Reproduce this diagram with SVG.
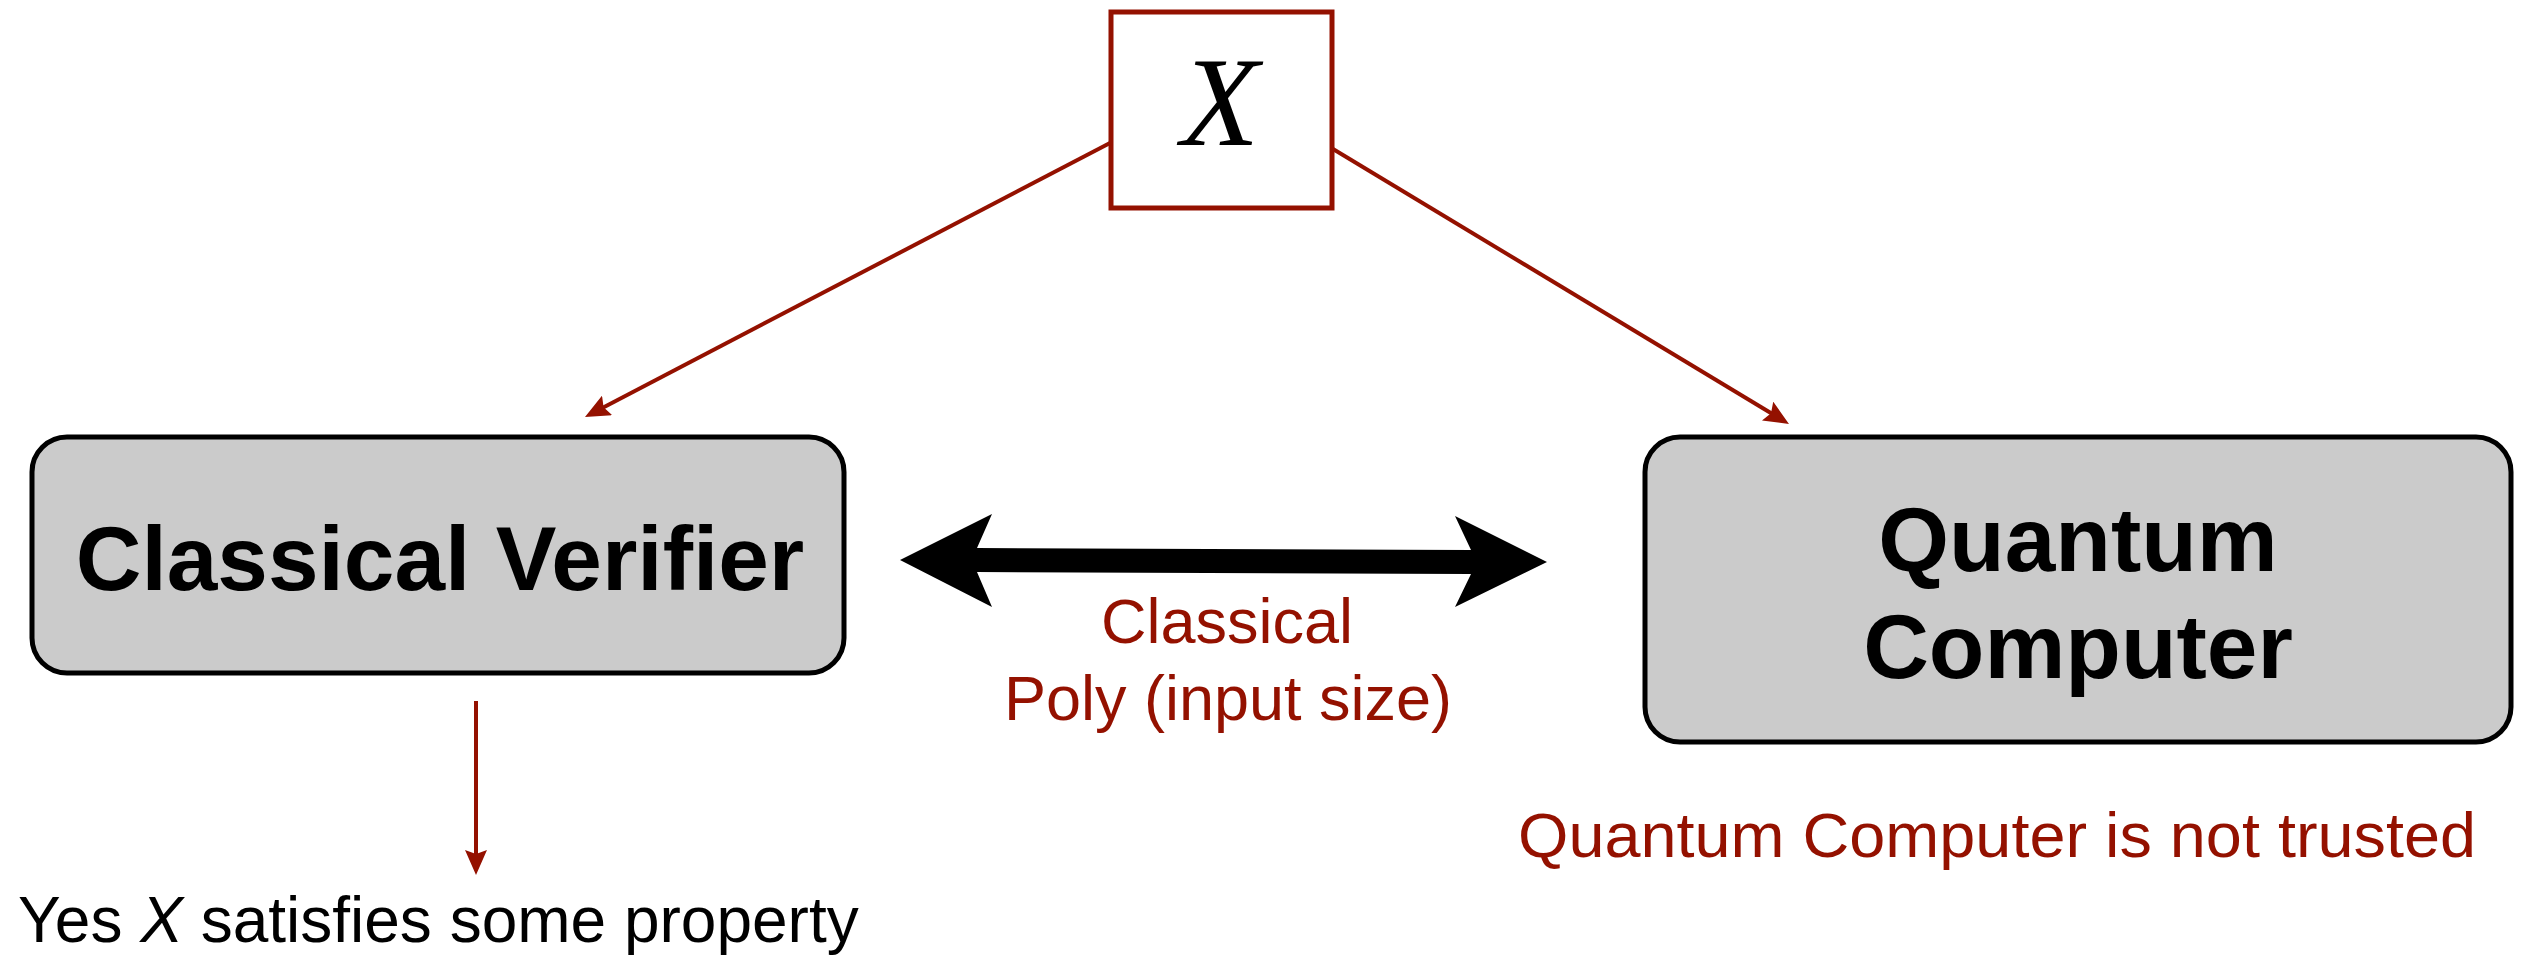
<svg xmlns="http://www.w3.org/2000/svg" width="2531" height="955" viewBox="0 0 2531 955">
<style>
.box{fill:#cbcbcb;stroke:#000;stroke-width:5}
.title{font-family:"Liberation Sans",Arial,sans-serif;font-weight:bold;font-size:91px;fill:#000;text-anchor:middle}
.red{font-family:"Liberation Sans",Arial,sans-serif;font-size:63px;fill:#941100}
.conn{stroke:#941100;stroke-width:4;fill:none;marker-end:url(#ah)}
</style>
<defs>
<marker id="ah" viewBox="0 0 25 22" refX="13" refY="11" markerWidth="25" markerHeight="22" markerUnits="userSpaceOnUse" orient="auto">
<path d="M0,0 L25,11 L0,22 L4,11 Z" fill="#941100"/>
</marker>
</defs>
<rect width="2531" height="955" fill="#fff"/>
<g id="node-x">
<rect x="1111" y="12" width="221" height="196" fill="#fff" stroke="#941100" stroke-width="5"/>
<text x="1220" y="145" font-family="Liberation Serif,'Times New Roman',serif" font-style="italic" font-size="128" text-anchor="middle" fill="#000">X</text>
</g>
<g id="node-verifier">
<rect class="box" x="32" y="437" width="812" height="236" rx="35" ry="35"/>
<text class="title" x="440" y="590" font-size="90">Classical Verifier</text>
</g>
<g id="node-quantum">
<rect class="box" x="1645" y="437" width="866" height="305" rx="35" ry="35"/>
<text class="title" x="2078" y="571">Quantum</text>
<text class="title" x="2078" y="678">Computer</text>
</g>
<g id="connectors">
<line class="conn" x1="1110" y1="143" x2="595.6" y2="411.4"/>
<line class="conn" x1="1333" y1="149" x2="1778.7" y2="417.8"/>
<line class="conn" x1="476" y1="701" x2="476" y2="863"/>
<polygon points="900,560 992,514 977,548 1471,550 1455,516 1547,562 1455,607 1471,574 977,572 992,607" fill="#000"/>
</g>
<g id="labels">
<text class="red" x="1227" y="643" text-anchor="middle">Classical</text>
<text class="red" x="1228" y="720" text-anchor="middle">Poly (input size)</text>
<text class="red" x="1518" y="857" font-size="65" textLength="958" lengthAdjust="spacingAndGlyphs">Quantum Computer is not trusted</text>
<text x="18" y="942" font-family="Liberation Sans,Arial,sans-serif" font-size="64" fill="#000">Yes <tspan font-style="italic">X</tspan> satisfies some property</text>
</g>
</svg>
